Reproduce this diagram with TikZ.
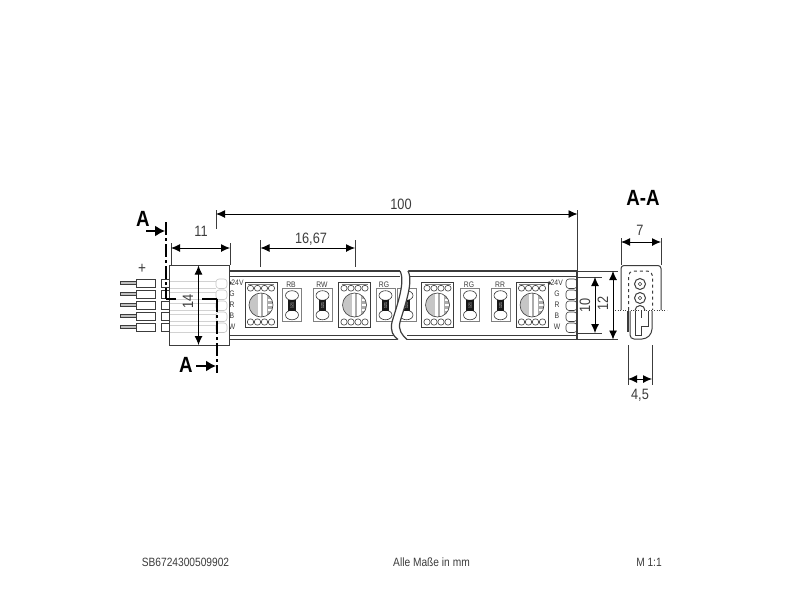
\documentclass[tikz,border=0pt]{standalone}
\usepackage{fontspec}
\setmainfont[FakeStretch=0.85]{Liberation Sans}
\usetikzlibrary{arrows.meta}
\definecolor{inkgray}{HTML}{3C3C3C}
% LED chip on the strip
\newcommand{\ledchip}[1]{
    \begin{scope}[shift={(#1,305)}]
        \draw[thinline] (-16,-22.5) rectangle (16,22.5);
        \draw[thinline,gray] (-13,-20.5) -- (13,-20.5);
        \foreach \px in {-10.5,-3.5,3.5,10.5} {
            \draw[thinline,rounded corners=2.5pt] (\px-3,-14) rectangle (\px+3,-19.5);
            \draw[thinline,rounded corners=2.5pt] (\px-3,14) rectangle (\px+3,20);
        }
        \begin{scope}
            \clip (0,0) circle[radius=12];
            \fill[white] (-12,-12) rectangle (12,12);
            \fill[gray!45] (-12,-12) rectangle (-3,12);
            \fill[gray!65] (0,-12) rectangle (2,12);
            \fill[gray!65] (6,-12) rectangle (12,12);
            \fill[white] (7,-6) rectangle (12,-4.5);
            \fill[white] (7,-1) rectangle (12,0.5);
            \fill[white] (7,4) rectangle (12,5.5);
        \end{scope}
        \draw[thinline] (0,0) circle[radius=12];
    \end{scope}
}
% resistor with its pads
\newcommand{\resistor}[1]{
    \begin{scope}[shift={(#1,305)}]
        \draw[thinline,gray] (-9.5,-17) rectangle (9.5,16);
        \draw[thinline,fill=white] (0,-9.5) ellipse[x radius=6.5,y radius=4.8];
        \draw[thinline,fill=white] (0,10) ellipse[x radius=6.5,y radius=4.8];
        \fill[black!90] (-3.7,-5.5) rectangle (3.7,6);
        \node[rotate=90,text=white,font=\fontsize{4}{4}\selectfont,inner sep=0pt] at (0,0.2) {121};
    \end{scope}
}
% contact pads at the strip ends
\newcommand{\padrow}[2]{
    \draw[#2,rounded corners=3pt] (#1,279) rectangle +(11,9.5);
    \draw[#2,rounded corners=3pt] (#1,290) rectangle +(11,9.5);
    \draw[#2,rounded corners=3pt] (#1,301) rectangle +(11,9.5);
    \draw[#2,rounded corners=3pt] (#1,312) rectangle +(11,9.5);
    \draw[#2,rounded corners=3pt] (#1,323) rectangle +(11,9.5);
}
% plug pin in front of the connector
\newcommand{\plugpin}[1]{
    \draw[thinline,fill=gray!50] (120,#1+2.5) rectangle (136,#1+5.5);
    \draw[bodyline,fill=white] (136,#1) rectangle (155,#1+8);
    \draw[bodyline,fill=white] (161,#1) rectangle (170,#1+8);
}
\begin{document}
\begin{tikzpicture}[x=1pt,y=-1pt,
    thinline/.style = {color=inkgray, line width=0.6pt},
    innerline/.style = {color=inkgray, line width=0.8pt},
    bodyline/.style = {color=inkgray, line width=1pt},
    stripline/.style = {color=inkgray, line width=1.2pt},
    dimline/.style = {color=black, line width=0.9pt, {Latex[length=9pt,width=8pt]}-{Latex[length=9pt,width=8pt]}},
    extline/.style = {color=inkgray, line width=0.7pt},
    cutline/.style = {color=black, line width=2pt, dash pattern=on 13pt off 3pt on 3pt off 3pt},
    cutarrow/.style = {color=black, line width=1.6pt, -{Latex[length=10pt,width=11pt]}},
    dimtext/.style = {color=inkgray, font=\fontsize{15}{15}\selectfont, inner sep=0pt},
    cuttext/.style = {color=black, font=\fontsize{22}{22}\selectfont\bfseries, inner sep=0pt},
    smalltext/.style = {color=inkgray, font=\fontsize{8}{8}\selectfont, inner sep=0pt},
    foottext/.style = {color=inkgray, font=\fontsize{12}{12}\selectfont, inner sep=0pt}]
    \fill[white] (0,0) rectangle (800,600);
    \useasboundingbox (0,0) rectangle (800,600);

    % strip
    \draw[stripline] (229,271) -- (400,271);
    \draw[innerline] (229,276) -- (400,276);
    \draw[innerline] (229,335) -- (398,335);
    \draw[stripline] (229,339.5) -- (398,339.5);
    \draw[stripline] (408,271) -- (577,271) -- (577,339.5) -- (407,339.5);
    \draw[innerline] (408,276) -- (577,276);
    \draw[innerline] (407,335) -- (577,335);
    \ledchip{261}
    \ledchip{354.5}
    \ledchip{437.5}
    \ledchip{532}
    \resistor{292}
    \resistor{322.5}
    \resistor{385.5}
    \resistor{406.5}
    \resistor{470}
    \resistor{500.5}
    \node[smalltext] (rb) at (291,285) {RB};
    \node[smalltext] (rw) at (322,285) {RW};
    \node[smalltext] (rg) at (384,285) {RG};
    \node[smalltext] (rgb) at (469,285) {RG};
    \node[smalltext] (rr) at (500,285) {RR};
    \padrow{566}{thinline}
    \node[smalltext,anchor=east] (pr) at (563,283) {$\bullet$\kern-1pt 24V};
    \node[smalltext] (pg) at (557,294) {G};
    \node[smalltext] (pc) at (557,305) {R};
    \node[smalltext] (pb) at (557,316) {B};
    \node[smalltext] (pw) at (557,327) {W};
    \node[smalltext,anchor=west] (lr) at (228,283) {$\bullet$\kern-1pt 24V};
    \node[smalltext] (lg) at (232,294) {G};
    \node[smalltext] (lc) at (232,305) {R};
    \node[smalltext] (lb) at (232,316) {B};
    \node[smalltext] (lw) at (232,327) {W};

    % break of the strip
    \fill[white] (400,270) .. controls (406,282) and (396,308) .. (392,322) .. controls (390,331) and (393,336) .. (398,340.5)
        -- (407,340.5) .. controls (402,335) and (398,330) .. (400,322) .. controls (404,308) and (414,282) .. (408,270) -- cycle;
    \draw[stripline] (400,271) .. controls (406,282) and (396,308) .. (392,322) .. controls (390,331) and (393,336) .. (398,339.5);
    \draw[stripline] (408,271) .. controls (414,282) and (404,308) .. (400,322) .. controls (398,330) and (402,335) .. (407,339.5);

    % connector
    \plugpin{279}
    \plugpin{290}
    \plugpin{301}
    \plugpin{312}
    \plugpin{323}
    \node[color=inkgray,font=\fontsize{16}{16}\selectfont,inner sep=0pt] (plus) at (142,269) {+};
    \fill[white] (169.5,265) rectangle (229.5,345);
    \padrow{216}{color=gray!45,line width=0.6pt}
    \draw[color=gray!35,line width=0.6pt] (170,281) -- (216,281);
    \draw[color=gray!35,line width=0.6pt] (170,288) -- (216,288);
    \draw[color=gray!35,line width=0.6pt] (170,292) -- (216,292);
    \draw[color=gray!35,line width=0.6pt] (170,299) -- (216,299);
    \draw[color=gray!35,line width=0.6pt] (170,303) -- (216,303);
    \draw[color=gray!35,line width=0.6pt] (170,310) -- (216,310);
    \draw[color=gray!35,line width=0.6pt] (170,314) -- (216,314);
    \draw[color=gray!35,line width=0.6pt] (170,321) -- (216,321);
    \draw[color=gray!35,line width=0.6pt] (170,325) -- (216,325);
    \draw[color=gray!35,line width=0.6pt] (170,332) -- (216,332);
    \draw[bodyline] (169.5,265) rectangle (229.5,345);

    % cut line A-A
    \coordinate (cuttop) at (166,222);
    \coordinate (cutleft) at (166,299);
    \coordinate (cutmid) at (176,299);
    \coordinate (cutright) at (202,299);
    \coordinate (cutcorner) at (217,299);
    \coordinate (cutbottom) at (217,373);
    \draw[cutline] (cuttop) -- (cutleft);
    \draw[color=black,line width=2pt] (cutleft) -- (cutmid);
    \draw[color=black,line width=2pt] (cutright) -- (cutcorner);
    \draw[cutline] (cutcorner) -- (cutbottom);
    \coordinate (arrowa) at (146,231);
    \coordinate (arrowb) at (165,231);
    \coordinate (arrowc) at (196,366);
    \coordinate (arrowd) at (216,366);
    \draw[cutarrow] (arrowa) -- (arrowb);
    \draw[cutarrow] (arrowc) -- (arrowd);
    \node[cuttext] (cuta) at (143,219) {A};
    \node[cuttext] (cutb) at (186,365) {A};
    \node[cuttext] (cutc) at (643,198) {A-A};

    % dimensions
    \coordinate (d100a) at (216,214);
    \coordinate (d100b) at (577.5,214);
    \draw[extline] (216,210) -- (216,229);
    \draw[extline] (577.5,210) -- (577.5,271);
    \draw[dimline] (d100a) -- (d100b);
    \node[dimtext] (t100) at (401,204) {100};
    \coordinate (d11a) at (171,248);
    \coordinate (d11b) at (230,248);
    \draw[extline] (171,243) -- (171,265);
    \draw[extline] (230,243) -- (230,265);
    \draw[dimline] (d11a) -- (d11b);
    \node[dimtext] (t11) at (201,231) {11};
    \coordinate (d16a) at (260.5,248);
    \coordinate (d16b) at (355,248);
    \draw[extline] (260.5,240) -- (260.5,267);
    \draw[extline] (355,240) -- (355,267);
    \draw[dimline] (d16a) -- (d16b);
    \node[dimtext] (t16) at (311,239) {16,67};
    \coordinate (d14a) at (198.5,265.5);
    \coordinate (d14b) at (198.5,345);
    \draw[dimline] (d14a) -- (d14b);
    \node[dimtext,rotate=90] (t14) at (188,301) {14};
    \coordinate (d10a) at (595,277);
    \coordinate (d10b) at (595,333);
    \draw[extline] (577,277) -- (602,277);
    \draw[extline] (577,333) -- (602,333);
    \draw[dimline] (d10a) -- (d10b);
    \node[dimtext,rotate=90] (t10) at (585,305) {10};
    \coordinate (d12a) at (613,271);
    \coordinate (d12b) at (613,339.5);
    \draw[extline] (577,271) -- (618,271);
    \draw[extline] (577,339.5) -- (618,339.5);
    \draw[dimline] (d12a) -- (d12b);
    \node[dimtext,rotate=90] (t12) at (603,303) {12};

    % section A-A
    \draw[bodyline,rounded corners=3pt] (621,310) -- (621,265.5) -- (661,265.5) -- (661,310);
    \draw[thinline,dashed,rounded corners=5pt,line width=1pt] (628.5,310) -- (628.5,271) -- (652.5,271) -- (652.5,310);
    \draw[bodyline] (640,284) circle[radius=5.5];
    \draw[thinline] (640,284) circle[radius=1.7];
    \draw[bodyline] (640,298) circle[radius=5.5];
    \draw[thinline] (640,298) circle[radius=1.7];
    \draw[bodyline] (635,310.5) arc[start angle=180,end angle=360,radius=5];
    \draw[thinline,dotted] (615,310.5) -- (667,310.5);
    \draw[color=inkgray,line width=1.6pt] (628,311) -- (628,332);
    \draw[bodyline,rounded corners=4pt] (630,311) -- (630,339) -- (646,339) -- (652,333) -- (652,311);
    \draw[bodyline] (635,311) -- (635,335) -- (641,335) -- (641,326) -- (648,326) -- (648,311);
    \draw[bodyline] (641,311) -- (641,318);
    \coordinate (d7a) at (621,242);
    \coordinate (d7b) at (661,242);
    \draw[extline] (621,238) -- (621,265);
    \draw[extline] (661,238) -- (661,265);
    \draw[dimline] (d7a) -- (d7b);
    \node[dimtext] (t7) at (640,230) {7};
    \coordinate (d45a) at (628,379);
    \coordinate (d45b) at (652,379);
    \draw[extline] (628,345) -- (628,385);
    \draw[extline] (652,345) -- (652,385);
    \draw[dimline] (d45a) -- (d45b);
    \node[dimtext] (t45) at (640,395) {4,5};

    % footer
    \node[foottext] (foota) at (185.5,562) {SB6724300509902};
    \node[foottext] (footb) at (431.5,562) {Alle Maße in mm};
    \node[foottext] (footc) at (649,562) {M 1:1};
\end{tikzpicture}
\end{document}
